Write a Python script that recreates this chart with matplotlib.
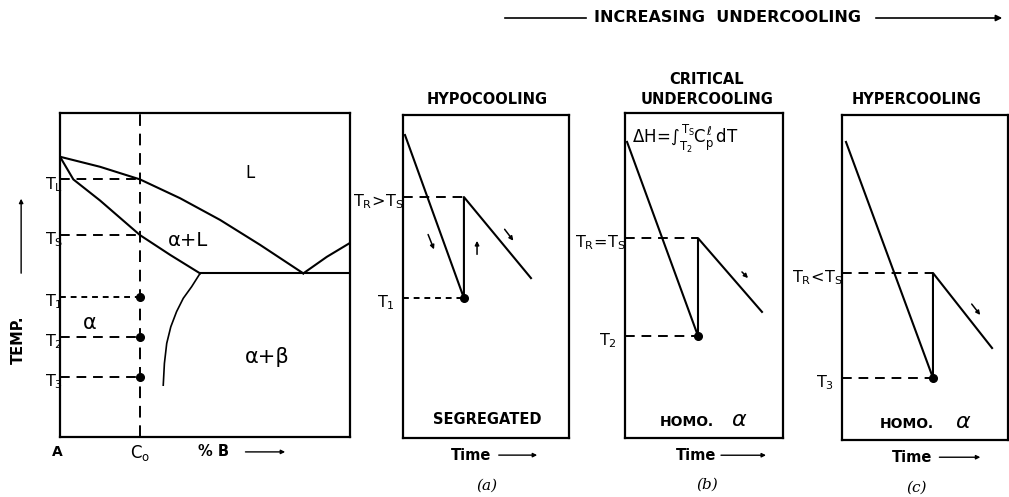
import matplotlib.pyplot as plt
from matplotlib.patches import FancyArrowPatch

plt.rcParams['font.family'] = ['DejaVu Sans']
plt.rcParams['mathtext.fontset'] = 'custom'
plt.rcParams['mathtext.rm'] = 'DejaVu Sans'
plt.rcParams['mathtext.it'] = 'DejaVu Sans'
plt.rcParams['mathtext.bf'] = 'DejaVu Sans:bold'

# phase diagram, composition (%B) vs temperature, both on a 0-100 scale
liquidus_x = [0, 13.8, 27.6, 41.4, 55.2, 69.0, 83.9]
liquidus_y = [86.5, 83.4, 79.5, 73.7, 67.0, 59.3, 50.5]
solidus_x = [0, 4.6, 13.8, 27.6, 38.0, 48.3]
solidus_y = [86.5, 79.5, 73.0, 62.3, 56.2, 50.5]
eutectic_x = [48.3, 100]
eutectic_y = [50.5, 50.5]
liquidus_b_x = [83.9, 92.0, 100]
liquidus_b_y = [50.5, 55.6, 59.9]
solvus_x = [48.3, 45.4, 42.5, 40.2, 38.2, 36.8, 36.0, 35.6]
solvus_y = [50.5, 46.4, 42.8, 38.7, 34.0, 28.9, 22.7, 16.0]
c0 = 27.6
t_levels = [79.5, 62.3, 43.2, 30.9, 18.5]
t_labels = ['$T_L$', '$T_S$', '$T_1$', '$T_2$', '$T_3$']

# cooling curves: time vs temperature (0-100)
time_a = [1.2, 36.7, 36.7, 77.1]
temp_a = [93.8, 43.3, 74.6, 49.5]
time_b = [1.3, 46.2, 46.2, 86.7]
temp_b = [91.1, 31.4, 61.5, 38.8]
time_c = [2.4, 54.8, 54.8, 90.4]
temp_c = [91.7, 19.1, 51.4, 28.3]

W, H = 1009, 497
fig = plt.figure(figsize=(W / 100, H / 100), dpi=100)


def box(x0, y0, x1, y1):
    return [x0 / W, (H - y1) / H, (x1 - x0) / W, (y1 - y0) / H]


def setup(ax):
    ax.set_xlim(0, 100)
    ax.set_ylim(0, 100)
    ax.set_xticks([])
    ax.set_yticks([])
    for s in ax.spines.values():
        s.set_linewidth(1.6)


lw = 1.5
dash_long = (0, (5, 3.5))
dash_short = (0, (3, 2.5))
small_arrow = dict(arrowstyle='-|>', lw=1.0, color='k', mutation_scale=6)

# ---- phase diagram
ax0 = fig.add_axes(box(60, 113, 350, 437))
setup(ax0)
ax0.plot(liquidus_x, liquidus_y, color='k', lw=lw)
ax0.plot(solidus_x, solidus_y, color='k', lw=lw)
ax0.plot(eutectic_x, eutectic_y, color='k', lw=lw)
ax0.plot(liquidus_b_x, liquidus_b_y, color='k', lw=lw)
ax0.plot(solvus_x, solvus_y, color='k', lw=1.2)
ax0.plot([c0, c0], [0, 100], color='k', lw=1.4, ls=(0, (6, 4)))
for i, (t, lab) in enumerate(zip(t_levels, t_labels)):
    ax0.plot([0, c0], [t, t], color='k', lw=1.4, ls=dash_short if i == 2 else dash_long)
    ax0.text(1.0, t - 1.5, lab, ha='right', va='center', fontsize=11.5)
ax0.plot([c0] * 3, t_levels[2:], 'o', color='k', ms=5.5)
ax0.text(65.5, 81.5, 'L', ha='center', va='center', fontsize=12)
ax0.text(44.1, 60.8, 'α+L', ha='center', va='center', fontsize=14)
ax0.text(10.3, 35.2, 'α', ha='center', va='center', fontsize=15)
ax0.text(71.4, 24.7, 'α+β', ha='center', va='center', fontsize=15)
ax0.text(-1, -4.6, 'A', ha='center', va='center', fontsize=10, fontweight='bold')
ax0.text(c0, -4.9, '$C_o$', ha='center', va='center', fontsize=12)
ax0.text(53, -4.6, '% B', ha='center', va='center', fontsize=10.5, fontweight='bold')
ax0.annotate('', xy=(78.6, -4.6), xytext=(63, -4.6), arrowprops=small_arrow,
             annotation_clip=False)
ax0.text(-14.5, 30, 'TEMP.', rotation=90, ha='center', va='center', fontsize=10.5,
         fontweight='bold')
ax0.annotate('', xy=(-13.4, 74.4), xytext=(-13.4, 49.7), arrowprops=small_arrow,
             annotation_clip=False)


def cooling_panel(ax, tm, tp, top_lab, low_lab, marks, title, bottom, cap, tx, tend, cy):
    setup(ax)
    ax.plot(tm, tp, color='k', lw=lw)
    ax.plot([0, tm[1]], [tp[2], tp[2]], color='k', lw=1.4, ls=dash_long)
    ax.plot([0, tm[1]], [tp[1], tp[1]], color='k', lw=1.4,
            ls=dash_short if low_lab == '$T_1$' else dash_long)
    ax.plot([tm[1]], [tp[1]], 'o', color='k', ms=5.5)
    ax.text(0.5, tp[2] - 1.5, top_lab, ha='right', va='center', fontsize=11.5)
    ax.text(-5, tp[1] - 1.5, low_lab, ha='right', va='center', fontsize=11.5)
    for (x0, y0, x1, y1) in marks:
        ax.annotate('', xy=(x1, y1), xytext=(x0, y0),
                    arrowprops=dict(arrowstyle='-|>', lw=1.1, color='k', mutation_scale=6))
    ax.text(cap[0], cy, title, transform=ax.transAxes, ha='center', va='bottom',
            fontsize=10.5, fontweight='bold', linespacing=1.35)
    bottom(ax)
    ax.text(tx, -0.053, 'Time', transform=ax.transAxes, ha='left', va='center',
            fontsize=10.5, fontweight='bold')
    ax.annotate('', xy=(tend, -0.053), xytext=(tx + 0.27, -0.053),
                xycoords='axes fraction', arrowprops=small_arrow, annotation_clip=False)
    ax.text(cap[0], cap[1], cap[2], transform=ax.transAxes, ha='center', va='center',
            fontsize=11, family='DejaVu Serif', style='italic')


def seg_bottom(ax):
    ax.text(0.506, 0.056, 'SEGREGATED', transform=ax.transAxes, ha='center', va='center',
            fontsize=10.5, fontweight='bold')


def homo_bottom(x):
    def f(ax):
        ax.text(x, 0.05, 'HOMO.', transform=ax.transAxes, ha='left', va='center',
                fontsize=10, fontweight='bold')
        ax.text(x + 0.45, 0.055, 'α', transform=ax.transAxes, ha='left', va='center',
                fontsize=16, style='italic')
    return f


# ---- (a) hypocooling
axa = fig.add_axes(box(403, 115, 569, 438))
cooling_panel(axa, time_a, temp_a, r'$T_R\!>\!T_S$', '$T_1$',
              [(14.5, 63.8, 19.3, 57.6), (44.6, 56.0, 44.6, 61.9), (60.2, 65.3, 67.5, 60.4)],
              'HYPOCOOLING', seg_bottom, (0.506, -0.146, '(a)'), 0.29, 0.825, 1.025)

# ---- (b) critical undercooling
axb = fig.add_axes(box(625, 113, 783, 438))
cooling_panel(axb, time_b, temp_b, r'$T_R\!=\!T_S$', '$T_2$',
              [(72.8, 51.7, 79.1, 48.6)],
              'CRITICAL\nUNDERCOOLING', homo_bottom(0.22), (0.519, -0.145, '(b)'), 0.32, 0.91, 1.02)
axb.text(0.385, 0.92, r'$\Delta H\!=\!\int_{T_2}^{T_S} C_p^{\ell}\,dT$', transform=axb.transAxes,
         ha='center', va='center', fontsize=12)

# ---- (c) hypercooling
axc = fig.add_axes(box(842, 115, 1008, 440))
cooling_panel(axc, time_c, temp_c, r'$T_R\!<\!T_S$', '$T_3$',
              [(77.1, 42.5, 84.3, 37.8)],
              'HYPERCOOLING', homo_bottom(0.23), (0.452, -0.148, '(c)'), 0.30, 0.85, 1.025)

# ---- top arrow
ytop = 1 - 18 / H
fig.text(727 / W, ytop, 'INCREASING  UNDERCOOLING', ha='center', va='center',
         fontsize=11.5, fontweight='bold')
fig.add_artist(plt.Line2D([505 / W, 586 / W], [ytop, ytop], color='k', lw=1.2))
fig.add_artist(FancyArrowPatch((873 / W, ytop), (1005 / W, ytop), transform=fig.transFigure,
                               arrowstyle='-|>', mutation_scale=9, lw=1.2, color='k'))

fig.savefig('out.png', dpi=100)
